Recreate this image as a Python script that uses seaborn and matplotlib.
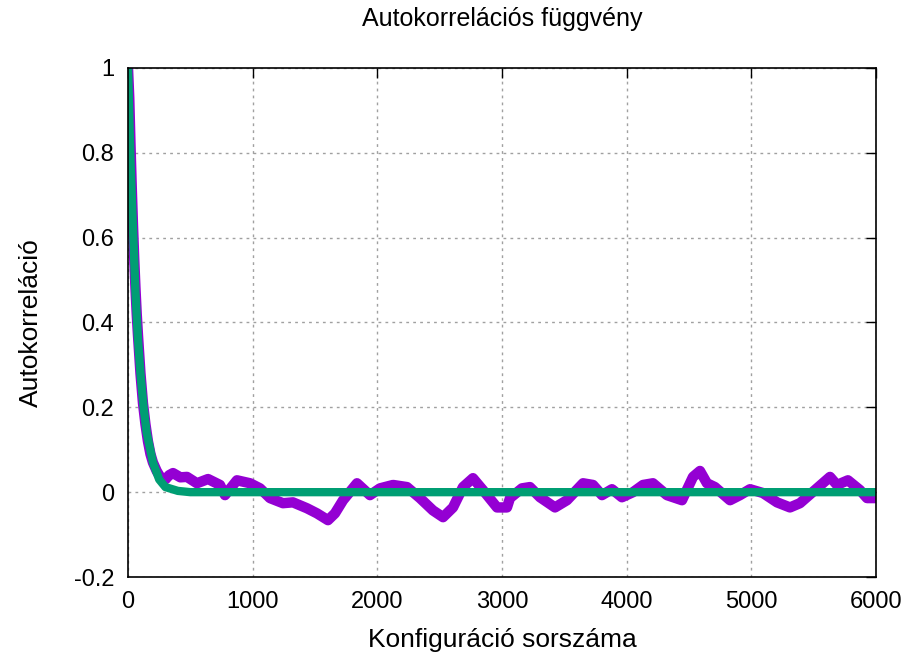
import numpy as np
import pandas as pd
import matplotlib
matplotlib.use("Agg")
import matplotlib.pyplot as plt
import seaborn as sns

acf_x = [0, 10, 20, 30, 40, 50, 60, 70, 80, 100, 120, 140, 160, 180, 200, 230, 260, 300,
         330, 361, 420, 473, 553, 642, 738, 778, 874, 979, 1059, 1139, 1243, 1323, 1436, 1516,
         1604, 1660, 1725, 1837, 1941, 2021, 2126, 2238, 2342, 2446, 2527, 2607, 2687, 2767,
         2847, 2960, 3040, 3064, 3160, 3224, 3305, 3425, 3521, 3650, 3730, 3802, 3882, 3962,
         4051, 4131, 4211, 4323, 4444, 4532, 4588, 4644, 4708, 4829, 4909, 4989, 5093, 5206,
         5310, 5390, 5526, 5631, 5687, 5775, 5871, 5928, 5992]
acf_y = [1.0, 0.93, 0.82, 0.72, 0.63, 0.55, 0.48, 0.42, 0.37, 0.28, 0.21, 0.16, 0.12, 0.09,
         0.07, 0.05, 0.035, 0.03, 0.04, 0.045, 0.035, 0.036, 0.021, 0.031, 0.017, -0.007, 0.028,
         0.021, 0.009, -0.014, -0.026, -0.024, -0.038, -0.050, -0.066, -0.050, -0.019, 0.021,
         -0.007, 0.009, 0.017, 0.012, -0.014, -0.043, -0.059, -0.036, 0.012, 0.033, 0.005,
         -0.036, -0.036, -0.014, 0.009, 0.012, -0.012, -0.036, -0.019, 0.021, 0.017, -0.007,
         0.007, -0.012, 0.0, 0.017, 0.021, -0.007, -0.019, 0.036, 0.050, 0.021, 0.012, -0.019,
         -0.007, 0.007, -0.002, -0.024, -0.036, -0.026, 0.009, 0.036, 0.017, 0.028, 0.005,
         -0.014, -0.014]

# Green: fitted curve
fit_x = [0, 20, 40, 60, 80, 100, 125, 150, 200, 250, 300, 400, 500, 6000]
fit_y = [1.0, 0.78, 0.62, 0.47, 0.36, 0.28, 0.20, 0.14, 0.07, 0.03, 0.012, 0.003, 0.0, 0.0]

x_ticks = [0, 1000, 2000, 3000, 4000, 5000, 6000]
y_ticks = [-0.2, 0, 0.2, 0.4, 0.6, 0.8, 1]
y_tick_labels = ["-0.2", "0", "0.2", "0.4", "0.6", "0.8", "1"]

sns.set_style("white")
plt.rcParams['font.family'] = ['Liberation Sans Narrow', 'Liberation Sans', 'DejaVu Sans']
plt.rcParams['text.color'] = 'black'
plt.rcParams['axes.labelcolor'] = 'black'

fig = plt.figure(figsize=(9.04, 6.57), dpi=100)
ax = fig.add_axes([128/904, 80/657, (876-128)/904, (577-68)/657])

df_acf = pd.DataFrame({"x": acf_x, "y": acf_y})
df_fit = pd.DataFrame({"x": fit_x, "y": fit_y})

sns.lineplot(data=df_acf, x="x", y="y", ax=ax, color="#9400d3", linewidth=7.5,
             solid_joinstyle="round", solid_capstyle="round", sort=False)
sns.lineplot(data=df_fit, x="x", y="y", ax=ax, color="#009e73", linewidth=6,
             solid_joinstyle="round", sort=False)

ax.set_xlim(0, 6000)
ax.set_ylim(-0.2, 1.0)
ax.set_xticks(x_ticks)
ax.set_xticklabels([str(t) for t in x_ticks])
ax.set_yticks(y_ticks)
ax.set_yticklabels(y_tick_labels)
ax.grid(True, color="#a0a0a0", linestyle=(0, (2, 3)), linewidth=1)
ax.set_axisbelow(True)
for s in ax.spines.values():
    s.set_color("black")
    s.set_linewidth(1.2)
    s.set_zorder(5)
ax.tick_params(direction="in", length=7, width=1, top=True, right=True,
               labelsize=17, pad=10, colors="black")
ax.set_xlabel("Konfiguráció sorszáma", fontsize=19, labelpad=11)
ax.set_ylabel("Autokorreláció", fontsize=19, labelpad=22)
ax.set_title("Autokorrelációs függvény", fontsize=18, pad=30)

fig.savefig("out.png", dpi=100)
